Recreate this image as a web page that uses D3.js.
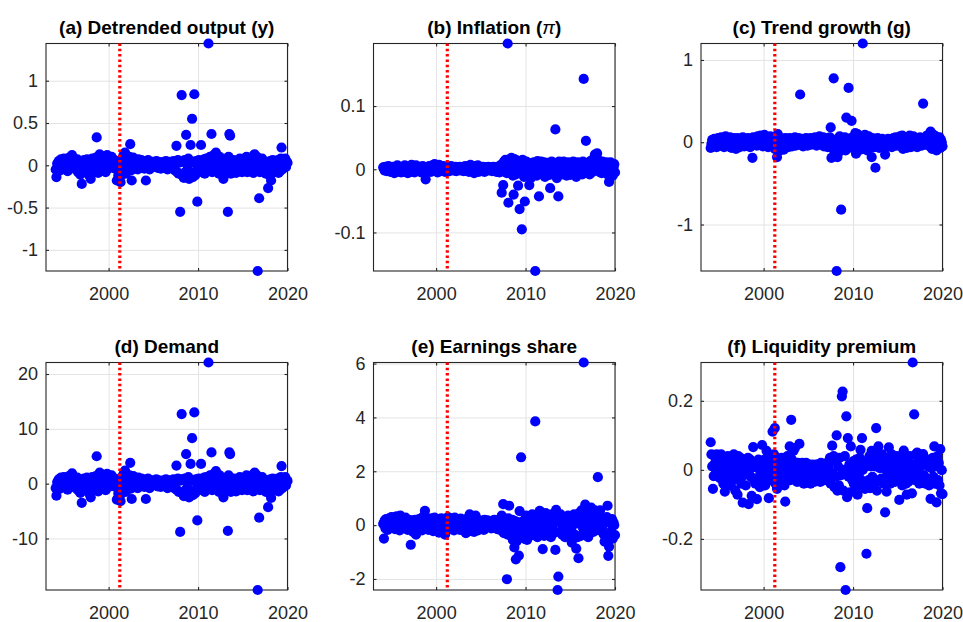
<!DOCTYPE html>
<html><head><meta charset="utf-8">
<script src="https://cdn.jsdelivr.net/npm/d3@7"></script>
<style>html,body{margin:0;padding:0;background:#fff;} svg{display:block;}</style>
</head><body>
<svg id="chart" width="963" height="622"></svg>
<script>
// monthly observations, Feb 1994 .. Jan 2020 (one row per year, 12 months)
const startYear = 1994, nMonths = 312;
const xDomain = [1993, 2020];
const xTicks = [2000, 2010, 2020];
const breakYear = 2001.25;

const titles = ["(a) Detrended output (y)", "(b) Inflation (π)", "(c) Trend growth (g)",
                "(d) Demand", "(e) Earnings share", "(f) Liquidity premium"];
const yTicks = [[-1,-0.5,0,0.5,1], [-0.1,0,0.1], [-1,0,1], [-10,0,10,20], [-2,0,2,4,6], [-0.2,0,0.2]];

const output = [
-.05,-.14,.02,-.03,.05,.01,-.06,.07,.03,-.02,.04,.08,
.00,-.04,.06,.02,-.07,.03,.09,.01,-.03,.05,.12,.04,
-.02,.06,.00,-.05,.03,.07,-.08,.02,.05,-.11,.01,-.22,
.04,-.06,.06,.02,-.03,.01,.07,-.04,.03,-.12,.05,-.16,
.02,.08,-.03,.05,-.07,.04,.09,.33,.01,-.09,.06,.13,
.03,-.05,.11,.07,-.02,.05,.02,-.08,.06,.12,.03,.00,
.08,-.03,.05,.10,-.01,.04,.02,.06,-.04,.03,-.18,.05,
-.12,.02,-.15,-.20,-.05,.08,.03,.12,-.08,.15,-.10,.04,
.06,-.02,.03,.10,.25,-.06,-.18,.02,.09,-.04,.06,-.03,
.05,.02,-.05,.07,.01,-.03,.04,.06,-.02,.03,.05,-.04,
.02,-.18,.04,-.02,.06,.01,-.05,.03,.02,-.01,.04,.00,
.01,.03,-.02,.05,.02,-.03,.04,.00,.02,-.04,.03,.01,
-.02,.04,.01,-.03,.05,.02,-.05,.03,.00,.04,-.02,.03,
.02,-.04,.05,.01,-.06,.04,.23,-.08,.06,-.10,.03,-.55,
.05,.83,-.12,.04,-.15,.06,-.08,.36,.02,-.05,.08,-.16,
-.10,.24,.04,.55,-.14,.03,.84,-.12,.05,-.06,-.43,.03,
.06,-.05,.02,.24,-.08,.04,-.02,.07,-.10,.03,.08,-.06,
.05,1.44,-.04,.10,.02,.37,-.08,.05,.12,-.05,.03,.15,
-.06,.08,.02,-.10,.10,.04,-.03,.06,-.08,-.16,.02,.05,
.03,-.06,.08,-.55,.10,.37,.35,-.10,.04,-.07,.02,.06,
-.04,.03,-.09,.05,.01,-.06,.04,.08,-.03,.02,-.08,.06,
.03,-.05,.07,-.02,.10,-.08,.04,.01,-.06,.05,.09,-.03,
.07,-.09,.12,.13,-.05,.03,.10,-1.25,.06,-.39,-.08,.04,
.02,.08,-.04,.05,-.06,.03,-.10,.01,.04,-.27,.03,-.12,
.05,-.18,.02,.06,-.05,.01,-.08,.04,.02,-.03,.06,-.09,
.04,-.07,.08,.21,-.05,.02,-.03,.06,.08,-.02,.04,.03];

const inflation = [
.003,.001,-.002,.004,.000,-.003,.002,.005,-.001,.003,-.004,.001,
-.002,.004,.001,-.006,.003,.000,-.004,.006,.002,-.003,.001,.004,
-.005,.002,.000,.003,-.004,.006,.001,-.002,.004,-.006,.002,.000,
.003,-.004,.007,.001,-.002,.004,-.005,.002,.006,-.003,.001,.003,
-.002,.004,.000,-.005,.003,.005,-.003,.001,-.006,-.016,.002,.004,
.000,-.003,.005,.002,-.004,.001,.006,-.002,.003,.008,-.001,.004,
.002,-.005,.003,.007,.000,-.003,.004,.001,-.002,.005,.002,-.004,
.003,.000,-.002,.004,.001,-.003,.002,.005,-.001,.003,.000,-.002,
.002,.004,-.003,.001,.003,-.001,.000,.004,-.002,.003,.001,.000,
-.003,.002,.005,.000,-.002,.004,.001,-.004,.003,.007,.002,-.003,
.001,.004,-.006,.002,.005,-.002,.003,.006,-.004,.001,.003,-.001,
.002,-.003,.004,.001,-.004,.002,.000,.003,-.002,.004,.001,-.001,
.003,.000,-.003,.002,.004,-.002,.001,.003,-.004,.002,.000,.004,
-.005,.006,.002,-.037,.008,-.025,.012,-.004,.015,.010,-.006,.199,
-.053,.015,.008,-.006,.018,.012,-.010,-.040,.016,.004,-.008,.014,
.010,-.026,.006,-.063,.012,-.004,-.095,.015,.008,-.012,-.051,.004,
.012,-.008,.006,.010,-.025,.002,-.014,.009,.004,-.006,.011,.001,
-.161,.008,-.010,.013,.004,-.043,.010,-.006,.012,.002,-.008,.006,
.011,-.012,.004,.008,-.005,.010,.002,-.009,-.030,.006,.012,-.004,
.008,-.006,.010,.063,.002,-.014,.007,-.043,.012,-.003,.006,.010,
-.008,.004,.012,-.005,.008,.002,-.010,.006,.011,-.004,.003,-.009,
.010,-.006,.004,.012,-.008,.002,.009,-.012,.005,.011,-.003,.007,
-.005,.010,.002,-.008,.012,.143,-.006,.009,.045,.004,-.004,.010,
.006,-.008,.013,.002,-.005,.010,.016,.004,.023,.012,.018,.025,
.008,.014,-.004,.010,.006,-.006,.012,.002,.009,-.003,.007,.011,
.004,-.008,.010,-.020,.006,.011,-.004,.009,-.010,.003,.008,-.005];

const trendGrowth = [
-.07,-.02,.03,-.05,.01,.04,-.03,.02,-.06,.00,.05,-.01,
.03,-.04,.06,.01,-.02,.05,-.06,.02,.07,-.03,.00,.04,
-.05,.02,.06,-.01,-.07,.03,.00,.05,-.04,.02,-.08,.03,
.05,-.02,.01,-.06,.04,.00,-.03,.06,.02,-.05,.01,.03,
-.04,.02,.05,-.01,.03,-.06,.04,.01,-.19,.06,-.02,.03,
.05,.00,-.04,.07,.02,-.03,.06,.08,-.01,.04,-.05,.02,
.09,.01,-.03,.05,.02,-.06,.04,.00,.07,-.02,.03,-.05,
.02,.05,-.08,.00,.04,-.18,.10,-.03,.06,-.10,.02,.04,
-.04,.01,-.09,.03,.05,-.02,.00,.04,-.06,.02,.05,-.03,
.03,-.05,.01,.04,-.02,.06,-.04,.02,.00,-.03,.05,.01,
.58,-.03,.02,.04,-.05,.01,.03,-.02,.05,.00,-.04,.02,
.03,-.01,.05,-.03,.02,.00,.04,-.02,.06,.01,-.04,.03,
.05,-.02,.07,.01,-.03,.04,.00,.06,-.05,.02,.05,-.01,
.03,-.06,.04,.01,.06,.18,-.19,.02,-.08,.777,-.05,.03,
-.05,-1.565,-.18,.04,-.12,.07,-.02,-.82,.05,-.08,.02,-.04,
.06,-.10,.30,.03,-.06,.66,.01,-.03,.05,.26,-.07,.02,
-.04,.08,.11,-.14,.04,.10,-.05,.02,.06,-.09,.03,.01,
1.2,-.03,.06,.09,-.05,.02,-.10,.04,.07,-.02,.03,-.06,
-.18,.05,.02,-.06,.03,-.31,.01,-.04,.05,-.02,-.07,.03,
.02,-.05,.04,.00,-.03,.03,-.15,.02,-.05,.01,.04,-.02,
-.04,.03,.01,-.06,.02,.05,-.03,.00,.06,-.04,.02,-.01,
.04,-.02,.07,-.05,.03,.08,-.08,.02,-.04,.05,.01,-.07,
.06,-.03,.02,.08,-.06,.04,.00,-.05,.07,-.02,.03,-.04,
.01,-.06,.05,.02,-.03,.06,.00,-.04,.03,.47,-.02,.04,
-.03,.05,.08,-.02,.04,.01,-.05,.13,.06,-.08,.03,.09,
.02,-.06,.07,-.10,.04,.01,-.04,.06,-.07,.03,.00,-.05];

const demand = [
-.8,-2.2,.3,-.5,.8,.2,-.9,1.1,.5,-.3,.6,1.2,
0,-.6,.9,.3,-1.1,.5,1.4,.2,-.5,.8,1.9,.6,
-.3,.9,0,-.8,.5,1.1,-1.2,.3,.8,-1.7,.2,-3.5,
.6,-.9,.9,.3,-.5,.2,1.1,-.6,.5,-1.8,.8,-2.5,
.3,1.2,-.5,.8,-1.1,.6,1.4,5.0,.2,-1.4,.9,2.0,
.5,-.8,1.7,1.1,-.3,.8,.3,-1.2,.9,1.8,.5,0,
1.2,-.5,.8,1.5,-.2,.6,.3,.9,-.6,.5,-2.9,.8,
-1.8,.3,-2.3,-3.2,-.8,1.2,.5,1.8,-1.2,2.4,-1.5,.6,
.9,-.3,.5,1.5,3.8,-.9,-2.8,.3,1.4,-.6,.9,-.5,
.8,.3,-.8,1.1,.2,-.5,.6,.9,-.3,.5,.8,-.6,
.3,-2.8,.6,-.3,.9,.2,-.8,.5,.3,-.2,.6,0,
.2,.5,-.3,.8,.3,-.5,.6,0,.3,-.6,.5,.2,
-.3,.6,.2,-.5,.8,.3,-.8,.5,0,.6,-.3,.5,
.3,-.6,.8,.2,-.9,.6,3.3,-1.2,.9,-1.5,.5,-8.8,
.8,12.7,-1.8,.6,-2.3,.9,-1.2,5.4,.3,-.8,1.2,-2.5,
-1.5,3.6,.6,8.3,-2.1,.5,13.0,-1.8,.8,-.9,-6.7,.5,
.9,-.8,.3,3.6,-1.2,.6,-.3,1.1,-1.5,.5,1.2,-.9,
.8,22.1,-.6,1.5,.3,5.7,-1.2,.8,1.8,-.8,.5,2.3,
-.9,1.2,.3,-1.5,1.5,.6,-.5,.9,-1.2,-2.5,.3,.8,
.5,-.9,1.2,-8.6,1.5,5.7,5.4,-1.5,.6,-1.1,.3,.9,
-.6,.5,-1.4,.8,.2,-.9,.6,1.2,-.5,.3,-1.2,.9,
.5,-.8,1.1,-.3,1.5,-1.2,.6,.2,-.9,.8,1.4,-.5,
1.1,-1.4,1.8,2.0,-.8,.5,1.5,-19.4,.9,-6.2,-1.2,.6,
.3,1.2,-.6,.8,-.9,.5,-1.5,.2,.6,-4.3,.5,-1.8,
.8,-2.6,.3,.9,-.8,.2,-1.2,.6,.3,-.5,.9,-1.4,
.6,-1.1,1.2,3.2,-.8,.3,-.5,.9,1.2,-.3,.6,.5];

const earningsShare = [
.05,-.50,.18,-.12,.22,.05,-.18,.10,.25,-.06,.14,.30,
-.08,.20,.02,.28,-.15,.12,.33,-.04,.18,.08,-.20,.35,
.10,-.12,.22,.04,-.08,.15,.28,-.02,.12,-.18,.20,.06,
-.15,-.73,.18,.05,-.25,.12,-.08,.20,-.35,.08,.15,-.05,
.22,-.12,.06,.15,-.20,.30,.02,-.10,.53,.18,-.06,.25,
.05,-.18,.20,.10,-.08,.25,.00,-.22,.12,.28,-.05,.16,
-.12,.22,.08,-.28,.15,.03,.25,-.10,.18,-.05,.12,-.35,
.20,.05,-.08,.30,.12,-.15,.25,.02,-.10,.18,.08,-.20,
.28,-.05,.15,.22,-.12,.10,.02,-.18,.24,.06,-.08,.16,
-.15,.20,.05,-.30,.12,.25,-.05,.18,.40,-.10,.08,-.22,
.30,.05,-.25,.15,.35,-.08,.12,-.20,.08,.18,-.05,.10,
-.10,.15,.05,-.18,.20,.02,.12,-.08,.18,-.04,.10,.05,
.08,-.12,.15,.02,-.06,.20,-.10,.12,.04,-.15,.08,.18,
-.05,.15,-.20,.35,.10,.78,-.30,.20,-.10,.05,-2.01,-.35,
.25,.72,-.15,.10,-.40,.20,-.55,.05,-.83,.15,-1.27,-.60,
-.20,.10,-1.13,.52,-.45,2.52,.05,-.30,.15,-.50,.20,-.10,
.35,-.55,.12,-.25,.30,-.40,.18,-.15,.40,-.35,.05,.25,
3.85,-.20,.15,-.45,.28,.10,.53,-.30,.20,.05,-.89,.35,
-.40,.15,.45,-.20,-.05,.30,-.35,.10,.25,-.45,.40,-.15,
.20,-.30,.10,-.92,.57,.35,-2.41,-1.91,.15,-.25,.40,.05,
-.35,.25,-.10,.30,-.45,.10,.20,-.20,.35,.05,-.30,.15,
-.15,-.65,.25,.10,.40,-.35,.05,-.87,.30,-.45,-1.23,.45,
.15,-.40,.55,.20,-.10,6.04,.35,.76,-.20,.60,.10,-.45,
.50,.20,-.15,.65,.10,.45,-.25,.30,.55,-.10,.20,.35,
1.78,.40,-.20,.55,.15,.30,-.05,.25,-.35,-.61,.10,-.45,
.30,.72,-1.14,-.80,.15,-.25,.05,.22,-.50,.10,.00,-.37];

const liquidityPremium = [
.080,.045,.010,-.055,-.018,.040,.020,-.010,.045,.005,-.020,.030,
.015,-.025,.045,.000,.030,-.040,-.015,-.063,.025,.010,-.030,.040,
.005,-.020,.035,-.045,.020,.000,-.030,.045,.010,-.060,.028,-.010,
-.072,.040,.015,-.025,.035,-.040,.005,-.095,.030,-.015,.020,-.045,
.025,-.010,.035,-.099,.000,.030,-.020,-.075,.015,.066,-.030,.010,
-.040,.020,-.085,.005,.030,-.020,-.050,.025,.000,.072,-.035,.015,
.030,-.045,.010,.055,-.020,.035,-.082,.000,-.030,.040,.020,.111,
-.010,.045,.121,-.040,.030,-.055,.000,.025,-.030,.015,-.020,.035,
.010,-.020,.030,-.045,-.092,.020,-.010,.040,-.025,.015,.068,-.030,
.145,.030,-.010,.055,.020,.063,-.025,.010,-.035,.020,.000,.075,
-.020,.015,-.035,.020,.005,-.040,.010,-.015,.020,-.030,.000,.015,
-.025,.010,-.040,.005,.015,-.020,.000,-.035,.010,.015,-.030,.005,
.015,-.020,.010,-.035,.020,-.005,-.025,.010,.000,-.030,.015,-.010,
.020,-.030,.005,-.015,.035,-.040,.025,.070,-.010,.040,-.050,.030,
-.020,.100,-.060,.010,-.045,.035,-.282,-.015,.213,.227,-.060,.000,
.040,-.348,.155,-.079,.092,-.020,.015,-.065,.068,.000,-.030,.025,
-.040,.010,-.025,.030,-.050,-.072,.015,-.010,.035,.058,-.030,.092,
.000,-.040,.025,-.055,.010,-.243,-.111,.020,-.030,.040,-.053,.010,
.055,-.020,.030,-.045,.010,.045,.121,-.060,.020,.068,-.030,.005,
.030,-.025,.045,.010,-.040,.020,-.123,.000,-.063,.035,-.015,.065,
.010,-.040,.025,.045,-.020,.005,.030,-.035,.015,-.010,.040,.020,
-.025,-.087,.010,.035,-.030,-.045,.020,.056,-.010,.030,-.040,-.072,
.025,-.035,.010,.040,-.020,.000,-.068,.311,.015,.161,-.030,.045,
-.010,.050,-.025,.030,-.040,.010,.020,-.030,.035,.046,-.015,.025,
-.040,.015,.030,-.025,.010,-.045,.020,-.084,.005,-.030,.035,-.020,
.068,-.040,.010,-.094,.039,-.030,.020,-.045,.060,-.068,-.001,-.070];

const seriesList = [output, inflation, trendGrowth, demand, earningsShare, liquidityPremium];
const dates = d3.range(nMonths).map(i => startYear + (i + 1) / 12);

// layout
const colLeft = [46, 373.5, 701];
const rowTop = [43.5, 362.5];
const W = 241.5, H = 227.5;
const FONT = "'Liberation Sans', Arial, Helvetica, sans-serif";
const AX = "#262626";

const svg = d3.select("#chart");
svg.append("rect").attr("width", 963).attr("height", 622).attr("fill", "#fff");

seriesList.forEach((vals, k) => {
  const col = k % 3, row = Math.floor(k / 3);
  const g = svg.append("g").attr("transform", `translate(${colLeft[col]},${rowTop[row]})`);
  const x = d3.scaleLinear().domain(xDomain).range([0, W]);
  const y = d3.scaleLinear().domain(d3.extent(vals)).range([H, 0]);

  // grid
  g.append("g").call(d3.axisBottom(x).tickValues(xTicks).tickSize(-H).tickFormat(""))
    .attr("transform", `translate(0,${H})`)
    .call(s => { s.select(".domain").remove(); s.selectAll("line").attr("stroke", "#e3e3e3"); });
  g.append("g").call(d3.axisLeft(y).tickValues(yTicks[k]).tickSize(-W).tickFormat(""))
    .call(s => { s.select(".domain").remove(); s.selectAll("line").attr("stroke", "#e3e3e3"); });

  // box
  g.append("rect").attr("width", W).attr("height", H).attr("fill", "none")
    .attr("stroke", AX).attr("stroke-width", 1.1);

  const styleAxis = s => {
    s.select(".domain").remove();
    s.selectAll("line").attr("stroke", AX).attr("stroke-width", 1.1);
    s.selectAll("text").attr("fill", AX).attr("font-size", 18).attr("font-family", FONT);
  };
  const fmt = d => String(d);
  g.append("g").attr("transform", `translate(0,${H})`)
    .call(d3.axisBottom(x).tickValues(xTicks).tickSize(-3).tickPadding(16).tickFormat(fmt)).call(styleAxis);
  g.append("g").call(d3.axisTop(x).tickValues(xTicks).tickSize(-3).tickFormat("")).call(styleAxis);
  g.append("g").call(d3.axisLeft(y).tickValues(yTicks[k]).tickSize(-3).tickPadding(8).tickFormat(fmt)).call(styleAxis);
  g.append("g").attr("transform", `translate(${W},0)`)
    .call(d3.axisRight(y).tickValues(yTicks[k]).tickSize(-3).tickFormat("")).call(styleAxis);

  // points
  g.append("g").selectAll("circle").data(vals).join("circle")
    .attr("cx", (d, i) => x(dates[i])).attr("cy", d => y(d))
    .attr("r", 5.1).attr("fill", "#0000ff");

  // break line
  g.append("line").attr("x1", x(breakYear)).attr("x2", x(breakYear))
    .attr("y1", 0).attr("y2", H).attr("stroke", "#ff0000")
    .attr("stroke-width", 3.2).attr("stroke-dasharray", "2.5 2.8");

  // title
  const t = g.append("text").attr("x", W / 2).attr("y", -9.5).attr("text-anchor", "middle")
    .attr("font-family", FONT).attr("font-size", 19).attr("font-weight", "bold").attr("fill", "#000");
  const parts = titles[k].split("π");
  parts.forEach((p, j) => {
    t.append("tspan").text(p);
    if (j < parts.length - 1) t.append("tspan").attr("font-style", "italic").attr("font-weight", "normal").text("π");
  });
});
</script>
</body></html>
